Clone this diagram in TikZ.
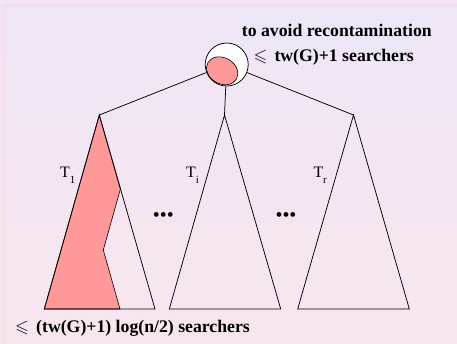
\documentclass[tikz,border=0pt]{standalone}
\usepackage{fontspec}
\setmainfont{Liberation Serif}
\usepackage{amssymb}
\usetikzlibrary{positioning,calc}
\definecolor{bgtop}{HTML}{EEE6F6}
\definecolor{bgbot}{HTML}{F8E6EE}
\definecolor{slideframe}{HTML}{F7D8E3}
\definecolor{contam}{HTML}{FF9999}
\newcommand{\tsub}[1]{\raisebox{-6bp}{\fontsize{11}{12}\selectfont #1}}
\newcommand{\leqmark}{\makebox[21bp][l]{$\leqslant$}}
\tikzset{
  subtree/.style={draw=black,line width=0.75bp,line join=miter},
  cleared/.style={fill=contam,draw=black,line width=0.6bp},
  treeedge/.style={draw=black,line width=0.75bp},
  tlabel/.style={font=\fontsize{16}{18}\selectfont,inner sep=0pt,anchor=base west},
  note/.style={font=\fontsize{17.8}{20}\selectfont\bfseries,inner sep=0pt,anchor=base west},
  dots/.style={font=\fontsize{20}{22}\selectfont,inner sep=0pt},
}

\begin{document}
\begin{tikzpicture}[x=1bp,y=-1bp]
  % slide background
  \shade[top color=bgtop,bottom color=bgbot] (0,0) rectangle (457,343);
  \useasboundingbox (0,0) rectangle (457,343);
  \draw[slideframe,line width=1.2bp] (4.5,343) -- (4.5,5) -- (457,5);

  % subtree apexes
  \coordinate (a1) at (99.3,115);
  \coordinate (ai) at (224.5,115);
  \coordinate (ar) at (353.5,115);

  % searched part of T1
  \path[cleared] (a1) -- (44.3,309) -- (120,309) -- (103.3,250) -- (120.4,189) -- cycle;

  % subtrees
  \draw[subtree] (a1) -- (44.3,309) -- (155,309) -- cycle;
  \draw[subtree] (ai) -- (169.3,309) -- (280.7,309) -- cycle;
  \draw[subtree] (ar) -- (297.7,309) -- (409.3,309) -- cycle;

  \node[tlabel] (t1) at (60,177.3) {T\tsub{1}};
  \node[tlabel] (ti) at (186,177.3) {T\tsub{i}};
  \node[tlabel] (tr) at (313.3,177.3) {T\tsub{r}};
  \node[dots] (d1) at (163.3,217) {•••};
  \node[dots] (d2) at (286,217) {•••};

  % root bag
  \node[circle,draw=black,fill=white,line width=0.75bp,minimum size=43bp,inner sep=0pt] (root) at (226.7,64.5) {};
  \draw[treeedge] (root) -- (a1);
  \draw[treeedge] (root) -- (ai);
  \draw[treeedge] (root) -- (ar);
  \path[cleared] (222.2,70.8) ellipse [x radius=16.5,y radius=13,rotate=-30];

  % annotations
  \node[note] (avoid) at (241.7,36.7) {to avoid recontamination};
  \node[note] (rootcost) at (253.3,61) {\leqmark tw(G)+1 searchers};
  \node[note] (treecost) at (15,332.7) {\leqmark(tw(G)+1) log(n/2) searchers};
\end{tikzpicture}
\end{document}
